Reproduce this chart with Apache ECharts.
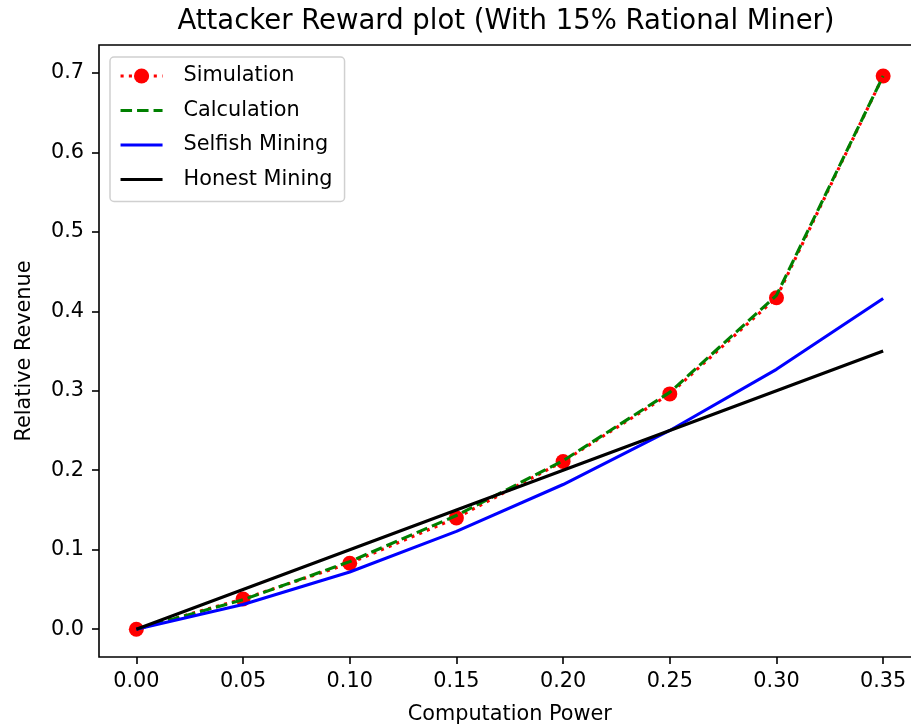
<!DOCTYPE html>
<html>
<head>
<meta charset="utf-8">
<script src="https://cdn.jsdelivr.net/npm/echarts@6/dist/echarts.min.js"></script>
<style>
  html, body { margin: 0; padding: 0; background: #fff; }
  #main { width: 911px; height: 727px; }
</style>
</head>
<body>
<div id="main"></div>
<script>
// 图表数据
var power = [0, 0.05, 0.10, 0.15, 0.20, 0.25, 0.30, 0.35];
var simulation = [0, 0.038, 0.083, 0.140, 0.211, 0.296, 0.417, 0.696];
var calculation = [0, 0.037, 0.085, 0.143, 0.212, 0.298, 0.420, 0.696];
var selfishMining = [0, 0.031, 0.072, 0.123, 0.182, 0.250, 0.327, 0.416];
var honestMining = [0, 0.05, 0.10, 0.15, 0.20, 0.25, 0.30, 0.35];
var xTicks = [0, 0.05, 0.10, 0.15, 0.20, 0.25, 0.30, 0.35];
var yTicks = [0, 0.1, 0.2, 0.3, 0.4, 0.5, 0.6, 0.7];

function pairs(ys) {
    return power.map(function (x, i) { return [x, ys[i]]; });
}

var font = 'DejaVu Sans';
var myChart = echarts.init(document.getElementById('main'));

var option = {
    animation: false,
    backgroundColor: '#fff',
    textStyle: { fontFamily: font },
    title: {
        text: 'Attacker Reward plot (With 15% Rational Miner)',
        left: 501,
        textAlign: 'center',
        top: 3,
        textStyle: { fontFamily: font, fontSize: 27.5, fontWeight: 'normal', color: '#000' }
    },
    legend: {
        orient: 'vertical',
        left: 110,
        top: 57,
        padding: [7, 12, 10, 9],
        itemGap: 10.5,
        itemWidth: 42,
        itemHeight: 19,
        backgroundColor: '#fff',
        borderColor: '#d0d0d0',
        borderWidth: 1.5,
        borderRadius: 4,
        textStyle: { fontFamily: font, fontSize: 20.8, lineHeight: 24, color: '#000', padding: [0, 0, 0, 16] },
        data: [
            { name: 'Simulation', lineStyle: { width: 3.1, type: [3.1, 5.2] } },
            { name: 'Calculation', itemStyle: { opacity: 0 }, lineStyle: { width: 3.1, type: [11.5, 5] } },
            { name: 'Selfish Mining', itemStyle: { opacity: 0 }, lineStyle: { width: 3.1 } },
            { name: 'Honest Mining', itemStyle: { opacity: 0 }, lineStyle: { width: 3.1 } }
        ]
    },
    grid: {
        left: 99,
        width: 821.5,
        top: 45,
        height: 612,
        show: true,
        borderColor: '#000',
        borderWidth: 1.6,
        containLabel: false,
        outerBoundsMode: 'none'
    },
    xAxis: {
        type: 'value',
        min: -0.0175,
        max: 0.3675,
        name: 'Computation Power',
        nameLocation: 'middle',
        nameGap: 47,
        nameTextStyle: { fontFamily: font, fontSize: 20.8, color: '#000' },
        splitLine: { show: false },
        axisLine: { show: false, onZero: false },
        axisTick: { show: true, inside: false, length: 7, lineStyle: { color: '#000', width: 1.6 }, customValues: xTicks },
        axisLabel: {
            margin: 14,
            fontFamily: font, fontSize: 20.8, color: '#000',
            customValues: xTicks,
            formatter: function (v) { return v.toFixed(2); }
        }
    },
    yAxis: {
        type: 'value',
        min: -0.035,
        max: 0.735,
        name: 'Relative Revenue',
        nameLocation: 'middle',
        nameRotate: 90,
        nameGap: 64,
        nameTextStyle: { fontFamily: font, fontSize: 20.8, color: '#000' },
        splitLine: { show: false },
        axisLine: { show: false, onZero: false },
        axisTick: { show: true, inside: false, length: 7, lineStyle: { color: '#000', width: 1.6 }, customValues: yTicks },
        axisLabel: {
            margin: 15,
            fontFamily: font, fontSize: 20.8, color: '#000',
            customValues: yTicks,
            formatter: function (v) { return v.toFixed(1); }
        }
    },
    series: [
        {
            name: 'Simulation',
            type: 'line',
            z: 1,
            data: pairs(simulation),
            symbol: 'circle',
            symbolSize: 15,
            itemStyle: { color: '#ff0000' },
            lineStyle: { color: '#ff0000', width: 3.1, type: [3.1, 5.2] }
        },
        {
            name: 'Calculation',
            type: 'line',
            data: pairs(calculation),
            symbol: 'none',
            itemStyle: { color: '#008000' },
            lineStyle: { color: '#008000', width: 3.1, type: [11.5, 5] }
        },
        {
            name: 'Selfish Mining',
            type: 'line',
            data: pairs(selfishMining),
            symbol: 'none',
            itemStyle: { color: '#0000ff' },
            lineStyle: { color: '#0000ff', width: 3.1 }
        },
        {
            name: 'Honest Mining',
            type: 'line',
            data: pairs(honestMining),
            symbol: 'none',
            itemStyle: { color: '#000000' },
            lineStyle: { color: '#000000', width: 3.1 }
        }
    ]
};

myChart.setOption(option, true);
</script>
</body>
</html>
